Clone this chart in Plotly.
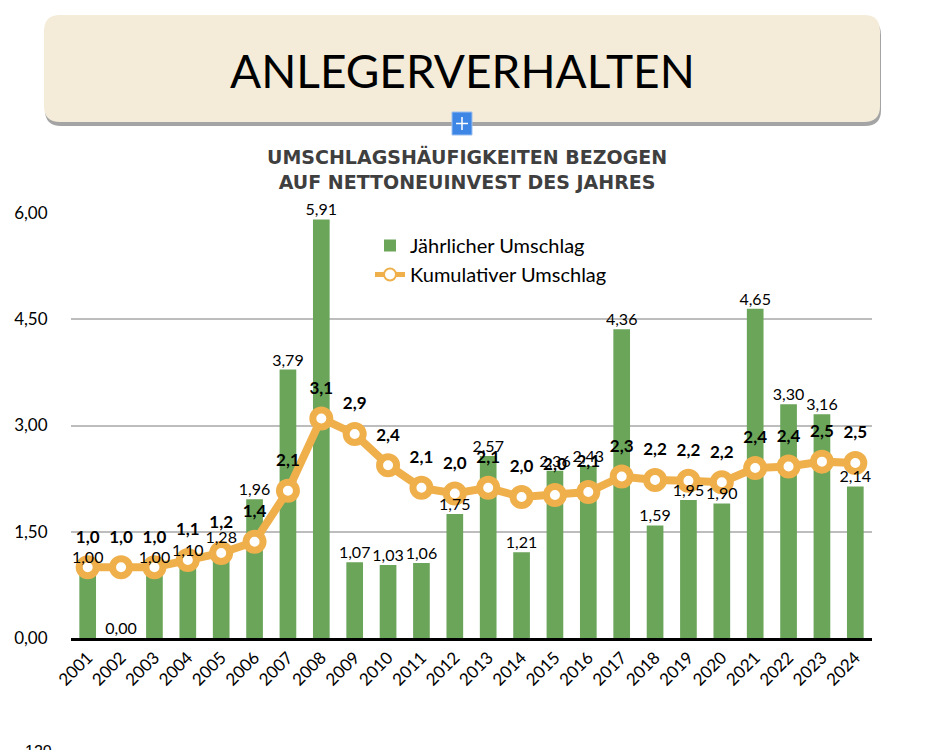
import plotly.graph_objects as go

years = [str(y) for y in range(2001, 2025)]
jaehrlich = [1.00, 0.00, 1.00, 1.10, 1.28, 1.96, 3.79, 5.91, 1.07, 1.03, 1.06, 1.75,
             2.57, 1.21, 2.36, 2.43, 4.36, 1.59, 1.95, 1.90, 4.65, 3.30, 3.16, 2.14]
kumulativ = [1.00, 1.00, 1.00, 1.10, 1.20, 1.36, 2.08, 3.10, 2.88, 2.44, 2.12, 2.04,
             2.12, 1.99, 2.02, 2.06, 2.28, 2.23, 2.22, 2.20, 2.40, 2.42, 2.49, 2.47]
y_ticks = [0, 1.5, 3, 4.5, 6]

# page body adds an 8px margin; figure is sized so it fills the window exactly
OFF = 8
W, H = 926 - OFF, 750 - OFF
L, R, T, B = 71 - OFF, 872 - OFF, 213 - OFF, 638 - OFF
FONT = "Lato"
GREEN = "#6AA55A"
ORANGE = "#EFB04C"


def px(x):
    return (x - OFF - L) / (R - L)


def py(y):
    return (B - (y - OFF)) / (B - T)


def rounded_path(x0, y0, x1, y1, r):
    pts = []
    pts.append(f"M {px(x0 + r)},{py(y0)}")
    pts.append(f"L {px(x1 - r)},{py(y0)}")
    pts.append(f"Q {px(x1)},{py(y0)} {px(x1)},{py(y0 + r)}")
    pts.append(f"L {px(x1)},{py(y1 - r)}")
    pts.append(f"Q {px(x1)},{py(y1)} {px(x1 - r)},{py(y1)}")
    pts.append(f"L {px(x0 + r)},{py(y1)}")
    pts.append(f"Q {px(x0)},{py(y1)} {px(x0)},{py(y1 - r)}")
    pts.append(f"L {px(x0)},{py(y0 + r)}")
    pts.append(f"Q {px(x0)},{py(y0)} {px(x0 + r)},{py(y0)}")
    pts.append("Z")
    return " ".join(pts)


fig = go.Figure()

fig.add_trace(go.Bar(
    x=years, y=jaehrlich, name="Jährlicher Umschlag",
    marker=dict(color=GREEN, line=dict(width=0)),
))

fig.add_trace(go.Scatter(
    x=years, y=kumulativ, name="Kumulativer Umschlag",
    mode="lines+markers",
    line=dict(color=ORANGE, width=8),
    marker=dict(size=17, color="white", line=dict(color=ORANGE, width=7)),
    cliponaxis=False,
))

# labels of the cumulative line (invisible larger markers give the label offset)
fig.add_trace(go.Scatter(
    x=years, y=kumulativ, mode="markers+text", showlegend=False,
    marker=dict(size=31, color="rgba(0,0,0,0)", line=dict(width=0)),
    texttemplate="%{y:.1f}", textposition="top center",
    textfont=dict(family=FONT, size=17, color="black", weight="bold"),
    cliponaxis=False, hoverinfo="skip",
))

fig.add_trace(go.Scatter(
    x=years, y=jaehrlich, mode="text", showlegend=False,
    texttemplate="%{y:.2f}", textposition="top center",
    textfont=dict(family=FONT, size=16, color="black"),
    cliponaxis=False, hoverinfo="skip",
))

shapes = [
    dict(type="path", xref="paper", yref="paper",
         path=rounded_path(45, 19, 881, 126, 16),
         fillcolor="rgba(90,90,90,0.55)", line=dict(width=0), layer="below"),
    dict(type="path", xref="paper", yref="paper",
         path=rounded_path(44, 15, 880, 122, 16),
         fillcolor="#F4ECD9", line=dict(width=0), layer="below"),
    dict(type="rect", xref="paper", yref="paper",
         x0=px(452), x1=px(472), y0=py(135), y1=py(112),
         fillcolor="#3D86E6", line=dict(color="#9CC0EE", width=1)),
    dict(type="line", xref="paper", yref="paper",
         x0=px(462), x1=px(462), y0=py(130), y1=py(117),
         line=dict(color="white", width=1.5)),
    dict(type="line", xref="paper", yref="paper",
         x0=px(456), x1=px(468), y0=py(123.5), y1=py(123.5),
         line=dict(color="white", width=1.5)),
]

annotations = [
    dict(text="ANLEGERVERHALTEN", x=px(462), y=py(70), xref="paper", yref="paper",
         showarrow=False, xanchor="center", yanchor="middle",
         font=dict(family=FONT, size=46, color="black")),
    dict(text="UMSCHLAGSHÄUFIGKEITEN BEZOGEN<br>AUF NETTONEUINVEST DES JAHRES",
         x=px(467), y=py(169), xref="paper", yref="paper",
         showarrow=False, xanchor="center", yanchor="middle",
         font=dict(family="DejaVu Sans", size=19, color="#3F3F3F", weight="bold")),
    dict(text="120", x=px(38), y=py(741), xref="paper", yref="paper",
         showarrow=False, xanchor="center", yanchor="top",
         font=dict(family="Liberation Sans", size=16, color="black")),
]

fig.update_layout(
    width=W, height=H,
    margin=dict(l=L, r=W - R, t=T, b=H - B, pad=0, autoexpand=False),
    paper_bgcolor="white", plot_bgcolor="white",
    separators=",.",
    bargap=0.5,
    font=dict(family=FONT, size=16, color="black"),
    showlegend=True,
    legend=dict(x=px(370), y=py(226), xanchor="left", yanchor="top",
                bgcolor="rgba(0,0,0,0)", font=dict(family=FONT, size=20, color="black"),
                itemsizing="constant", tracegroupgap=0),
    shapes=shapes,
    annotations=annotations,
    xaxis=dict(
        type="category", range=[-0.5, len(years) - 0.5],
        showgrid=False, showline=True, linecolor="black", linewidth=3,
        tickangle=-45, tickfont=dict(family=FONT, size=17, color="black"),
        ticks="", zeroline=False, automargin=False,
    ),
    yaxis=dict(
        range=[0, 6], tickvals=y_ticks, tickformat=".2f",
        showgrid=True, gridcolor="#BDBDBD", gridwidth=1.5,
        zeroline=False, showline=False, automargin=False,
        ticks="outside", ticklen=19, tickcolor="rgba(0,0,0,0)",
        tickfont=dict(family=FONT, size=17, color="black"),
    ),
)

fig.write_html("out.html")
